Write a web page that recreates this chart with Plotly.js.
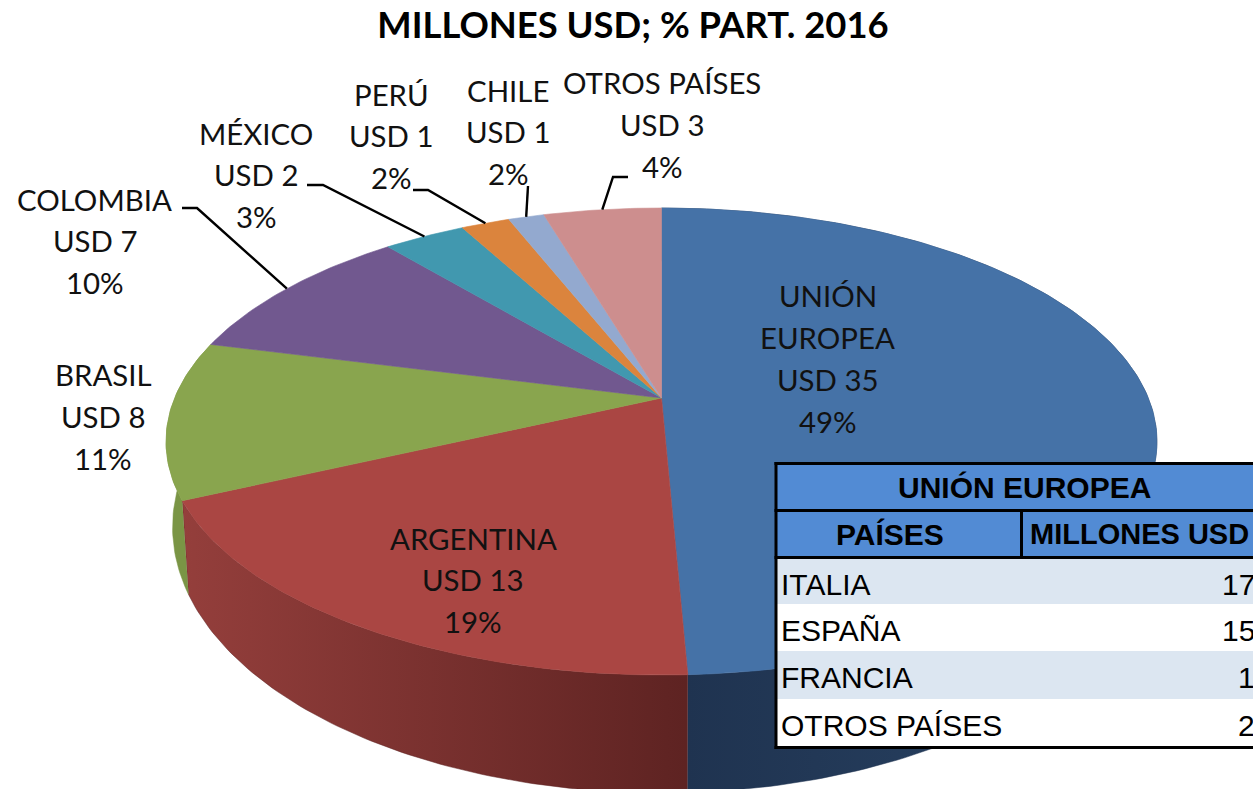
<!DOCTYPE html>
<html><head><meta charset="utf-8">
<script src="https://cdn.plot.ly/plotly-3.0.1.min.js"></script>
<style>html,body{margin:0;padding:0;background:#fff;overflow:hidden;width:1253px;height:789px}#c{width:1290px;height:789px}</style>
</head><body><div id="c"></div>
<script>
// ---- data ----
const regions = ['UNIÓN EUROPEA','ARGENTINA','BRASIL','COLOMBIA','MÉXICO','PERÚ','CHILE','OTROS PAÍSES'];
const shares  = [49.3,18.8,10.9,9.9,3.2,1.9,1.4,4.6];
const usd     = ['USD 35','USD 13','USD 8','USD 7','USD 2','USD 1','USD 1','USD 3'];
const pct     = ['49%','19%','11%','10%','3%','2%','2%','4%'];
const colors  = ['#4572a7','#aa4643','#89a54e','#71588f','#4198af','#db843d','#93a9cf','#cd8e8e'];
const titleText = 'MILLONES USD; % PART. 2016';
const tableTitle = 'UNIÓN EUROPEA';
const tableHeaders = ['PAÍSES','MILLONES USD'];
const tableCountries = ['ITALIA','ESPAÑA','FRANCIA','OTROS PAÍSES'];
const tableValues = [17,15,1,2];

// ---- layout of the drawing ----
const W = 1290, H = 789;
const K = 0.1863;
const topDisc = {cx:661.5, cy:398,   A:486.8, B:225.4};
const botDisc = {cx:661.5, cy:477.5, A:480.4, B:256.7};
const wallStyle = [
  {c0:'#2a4566', c1:'#1f3350', x0:1158, x1:686},
  {c0:'#953f3c', c1:'#5e2322', x0:175, x1:686},
  {c0:'#7a9545', c1:'#7a9545', x0:165, x1:200}
];
// line-centre positions of the labels: [x, first line y, line step]
const labelPos = [[827.5,295,42.3],[473,538,41.5],[103,374,42],[94.5,199,41.5],[256,133,41.5],[391,94,41.5],[508,90,41.5],[662,82,42]];
const labelLines = [['UNIÓN','EUROPEA'],['ARGENTINA'],['BRASIL'],['COLOMBIA'],['MÉXICO'],['PERÚ'],['CHILE'],['OTROS PAÍSES']];
// leader elbows for the outside labels, index into regions
const leaders = {3:[[182,208],[197,208]],4:[[307,185],[323,185]],5:[[413,190],[428,190]],6:[[528,186]],7:[[628,177],[613,177]]};
// table geometry
const tableLeft = 777, tableRight = 1290;
const headBand = [465,556];
const rowEdges = [559,604,651,699,746];
const rowFills = ['#dce6f1','#ffffff','#dce6f1','#ffffff'];
const headFill = '#528bd4';
const tableRules = [[774.5,1290,462,465],[774.5,777.5,462,749],[774.5,1290,746,749],[774.5,1290,509,512],[774.5,1290,556,559],[1020,1023,509,559]];

function project(d, share){           // share in % clockwise from 12 o'clock
  const t = share/100*2*Math.PI, X = Math.sin(t), Y = -Math.cos(t), w = 1-K*Y;
  return [d.cx + d.A*X/w, d.cy + d.B*Y/w];
}
function arc(d,a,b){
  const n = Math.max(2,Math.ceil(Math.abs(b-a)*4)), pts=[];
  for(let i=0;i<=n;i++) pts.push(project(d,a+(b-a)*i/n));
  return pts;
}
const total = shares.reduce((s,v)=>s+v,0);
let acc=0; const bounds = shares.map(v=>{const r=[acc/total*100,(acc+v)/total*100];acc+=v;return r;});

const traces=[];
// side walls (front slices only)
wallStyle.forEach((s,i)=>{
  const [a,b]=bounds[i];
  const pts=arc(topDisc,a,b).concat(arc(botDisc,a,b).reverse());
  traces.push({type:'scatter',mode:'lines',x:pts.map(p=>p[0]),y:pts.map(p=>p[1]),fill:'toself',
    line:{width:0.5,color:s.c1},hoverinfo:'skip',showlegend:false,name:regions[i]+' lateral',
    fillcolor:s.c1,
    fillgradient:{type:'horizontal',start:s.x0,stop:s.x1,colorscale:[[0,s.c0],[1,s.c1]]}});
});
// top faces
bounds.forEach((bd,i)=>{
  const pts=[[topDisc.cx,topDisc.cy]].concat(arc(topDisc,bd[0],bd[1]));pts.push([topDisc.cx,topDisc.cy]);
  traces.push({type:'scatter',mode:'lines',x:pts.map(p=>p[0]),y:pts.map(p=>p[1]),fill:'toself',fillcolor:colors[i],
    line:{width:0.6,color:colors[i]},hoverinfo:'skip',showlegend:false,name:regions[i]});
});

// labels
const annotations=[];
regions.forEach((r,i)=>{
  const lines=labelLines[i].concat([usd[i],pct[i]]);
  lines.forEach((t,j)=>annotations.push({xref:'x',yref:'y',x:labelPos[i][0],y:labelPos[i][1]+j*labelPos[i][2],text:t,showarrow:false,
    xanchor:'center',yanchor:'middle',font:{family:'Lato, Carlito, sans-serif',size:29.4,color:'#111'}}));
});
// leader lines end on the rim at the middle of their slice
const shapes=[];
Object.keys(leaders).forEach(k=>{
  const m=project(topDisc,(bounds[k][0]+bounds[k][1])/2);
  const p=leaders[k].concat([m]);
  shapes.push({type:'path',xref:'x',yref:'y',layer:'above',line:{color:'#000',width:2.4},
    path:'M'+p.map(q=>q[0].toFixed(1)+','+q[1].toFixed(1)).join('L')});
});
// table: fills, rules, text
function rect(x0,x1,y0,y1,c){shapes.push({type:'rect',xref:'x',yref:'y',x0,x1,y0,y1,layer:'above',fillcolor:c,line:{width:0}});}
rect(tableLeft,tableRight,headBand[0],headBand[1],headFill);
rowFills.forEach((c,i)=>rect(tableLeft,tableRight,rowEdges[i],rowEdges[i+1],c));
tableRules.forEach(r=>rect(r[0],r[1],r[2],r[3],'#000'));
const hFont={family:'Liberation Sans, Arial, sans-serif',size:30,color:'#000'};
const hFont2={family:'Liberation Sans, Arial, sans-serif',size:29,color:'#000'};
const bFont={family:'Liberation Sans, Arial, sans-serif',size:30,color:'#000'};
function cell(t,x,y,anchor,font){annotations.push({xref:'x',yref:'y',x,y,text:t,showarrow:false,xanchor:anchor,yanchor:'middle',font,borderpad:0});}
cell('<b>'+tableTitle+'</b>',1024,487,'center',hFont);
cell('<b>'+tableHeaders[0]+'</b>',890,534,'center',hFont);
cell('<b>'+tableHeaders[1]+'</b>',1029,534,'left',hFont2);
tableCountries.forEach((c,i)=>{
  const y=(rowEdges[i]+rowEdges[i+1])/2+2.5;
  cell(c,780,y,'left',bFont);
  cell(String(tableValues[i]),1256,y,'right',bFont);
});

Plotly.newPlot('c',traces,{
  width:W,height:H,margin:{l:0,r:0,t:0,b:0,pad:0},paper_bgcolor:'#fff',plot_bgcolor:'#fff',showlegend:false,
  title:{text:'<b>'+titleText+'</b>',x:633/W,xanchor:'center',y:1-25/H,yanchor:'middle',font:{family:'Lato, Carlito, sans-serif',size:36.4,color:'#000'}},
  xaxis:{range:[0,W],visible:false,fixedrange:true},
  yaxis:{range:[H,0],visible:false,fixedrange:true},
  annotations,shapes
},{staticPlot:true,displayModeBar:false});
</script></body></html>
